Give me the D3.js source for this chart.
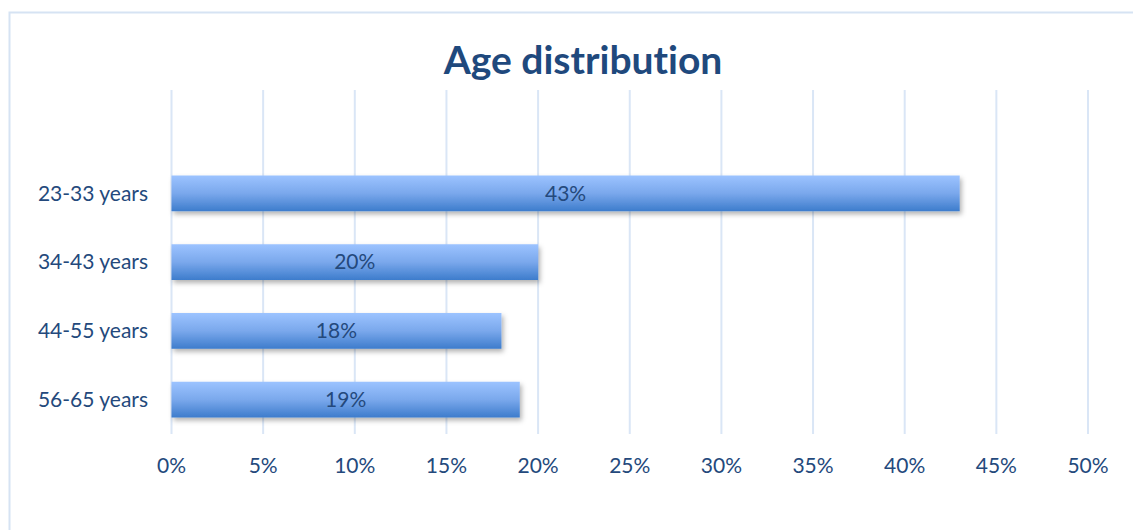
<!DOCTYPE html>
<html>
<head>
<meta charset="utf-8">
<script src="https://cdn.jsdelivr.net/npm/d3@7"></script>
<style>
  body { margin: 0; background: #fff; }
  text { font-family: Lato, "Open Sans", sans-serif; font-variant-ligatures: none; }
</style>
</head>
<body>
<script>
// chart data
const categories = ['23-33 years', '34-43 years', '44-55 years', '56-65 years'];
const shares = [43, 20, 18, 19];
const ticks = [0, 5, 10, 15, 20, 25, 30, 35, 40, 45, 50];

const width = 1133, height = 530;
const textColor = '#24497c';
const labelSize = 21;

const svg = d3.select('body').append('svg')
  .attr('width', width)
  .attr('height', height);

// chart border (light blue frame, cut off on the right)
svg.append('rect')
  .attr('x', 9.5).attr('y', 12.5)
  .attr('width', 1140).attr('height', 540)
  .attr('fill', 'none')
  .attr('stroke', '#d6e3f3')
  .attr('stroke-width', 2);

// gradient + shadow for the bars
const defs = svg.append('defs');
const grad = defs.append('linearGradient')
  .attr('id', 'barGrad')
  .attr('x1', 0).attr('y1', 0).attr('x2', 0).attr('y2', 1);
grad.append('stop').attr('offset', '0%').attr('stop-color', '#9cc3ff');
grad.append('stop').attr('offset', '50%').attr('stop-color', '#7aa8ec');
grad.append('stop').attr('offset', '100%').attr('stop-color', '#3d7ccc');

const shadow = defs.append('filter')
  .attr('id', 'shadow')
  .attr('x', '-5%').attr('y', '-20%').attr('width', '115%').attr('height', '160%');
shadow.append('feDropShadow')
  .attr('dx', 2).attr('dy', 3).attr('stdDeviation', 2.5)
  .attr('flood-color', '#000').attr('flood-opacity', 0.3);

const plotTop = 90, plotBottom = 434;
const x = d3.scaleLinear().domain([0, 50]).range([171.5, 1088]);
const y = d3.scaleBand()
  .domain(categories)
  .range([159, plotBottom])
  .paddingInner(0.48)
  .paddingOuter(0.24);

// vertical gridlines
svg.append('g')
  .selectAll('line')
  .data(ticks)
  .enter()
  .append('line')
  .attr('x1', d => x(d)).attr('x2', d => x(d))
  .attr('y1', plotTop).attr('y2', plotBottom)
  .attr('stroke', '#dae6f6')
  .attr('stroke-width', 2);

// x tick labels
svg.append('g')
  .selectAll('text')
  .data(ticks)
  .enter()
  .append('text')
  .attr('x', d => x(d))
  .attr('y', 473)
  .attr('text-anchor', 'middle')
  .attr('font-size', labelSize)
  .attr('fill', textColor)
  .text(d => d + '%');

// category labels
svg.append('g')
  .selectAll('text')
  .data(categories)
  .enter()
  .append('text')
  .attr('x', 148)
  .attr('y', d => y(d) + y.bandwidth() / 2)
  .attr('dy', '0.35em')
  .attr('text-anchor', 'end')
  .attr('font-size', labelSize)
  .attr('fill', textColor)
  .text(d => d);

// bars
svg.append('g')
  .selectAll('rect')
  .data(shares)
  .enter()
  .append('rect')
  .attr('x', x(0))
  .attr('y', (d, i) => y(categories[i]))
  .attr('width', d => x(d) - x(0))
  .attr('height', y.bandwidth())
  .attr('fill', 'url(#barGrad)')
  .attr('filter', 'url(#shadow)');

// value labels inside bars
svg.append('g')
  .selectAll('text')
  .data(shares)
  .enter()
  .append('text')
  .attr('x', d => (x(0) + x(d)) / 2)
  .attr('y', (d, i) => y(categories[i]) + y.bandwidth() / 2)
  .attr('dy', '0.35em')
  .attr('text-anchor', 'middle')
  .attr('font-size', labelSize)
  .attr('fill', textColor)
  .text(d => d + '%');

// title
svg.append('text')
  .attr('x', 583)
  .attr('y', 74)
  .attr('text-anchor', 'middle')
  .attr('font-size', 39)
  .attr('font-weight', 'bold')
  .attr('fill', '#1f497d')
  .text('Age distribution');
</script>
</body>
</html>
